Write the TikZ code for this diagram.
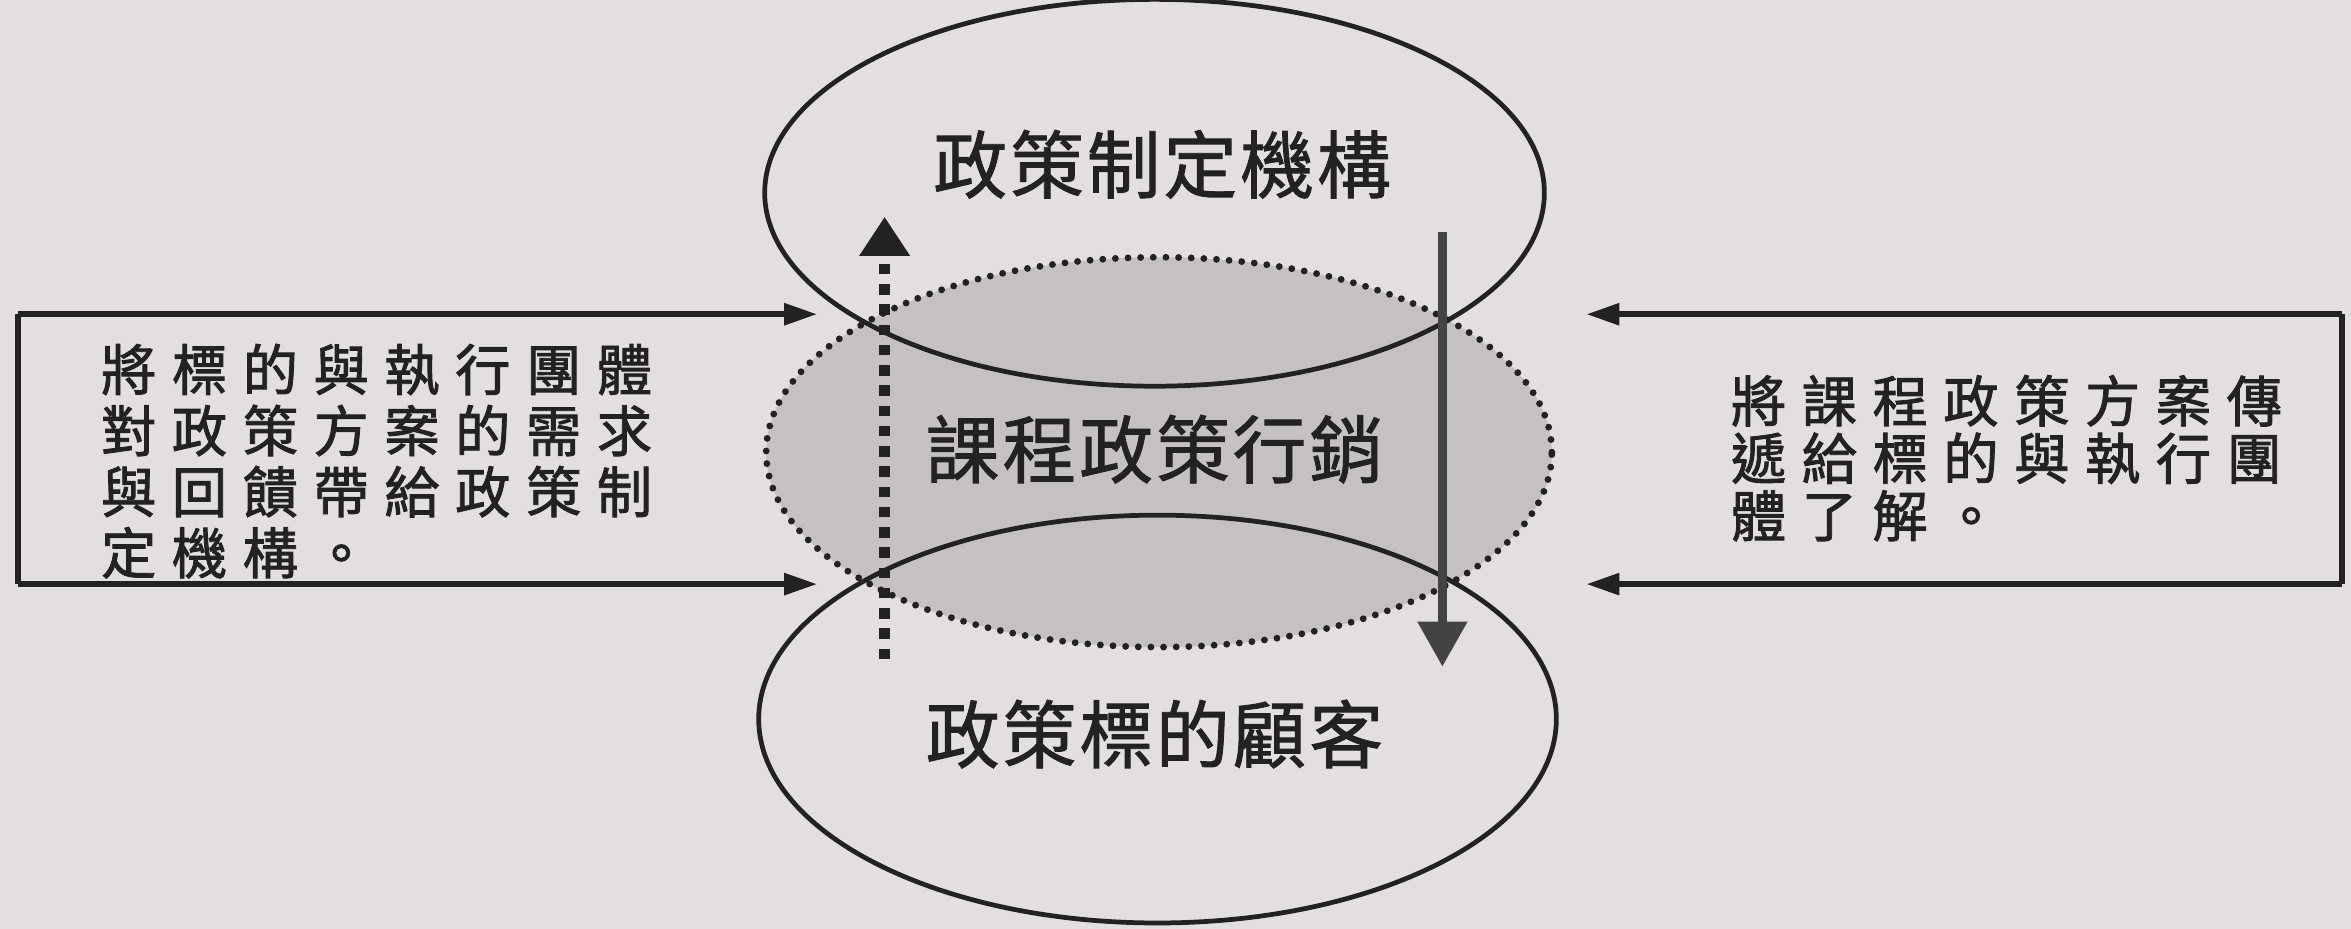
\documentclass[tikz,border=0pt]{standalone}
\usepackage{fontspec}
\newfontfamily\cjkbig[LetterSpace=4,FakeBold=1.2]{Noto Sans CJK TC}
\newfontfamily\cjksmall[LetterSpace=28,FakeBold=1.6]{Noto Sans CJK TC}
\usetikzlibrary{shapes.geometric,arrows.meta}
\definecolor{paper}{HTML}{E4DFDF}
\definecolor{midgray}{HTML}{C6C1C1}
\definecolor{ink}{HTML}{222222}
\tikzset{
  oval/.style={ellipse, draw=ink, line width=0.9pt, inner sep=0pt},
  dotoval/.style={ellipse, fill=midgray, inner sep=0pt},
  dotline/.style={draw=ink, line width=1.3pt, dash pattern=on 0pt off 2.4pt, line cap=round},
  bigtext/.style={font=\cjkbig\fontsize{14}{16}\selectfont, text=ink},
  boxtext/.style={font=\cjksmall\fontsize{10.5}{11.6}\selectfont, text=ink, align=left, anchor=west},
  boxline/.style={draw=ink, line width=1.1pt},
  sidearrow/.style={boxline, -{Triangle[length=0.22cm, width=0.14cm]}},
  uparrow/.style={draw=ink, line width=2.0pt, dash pattern=on 0.07cm off 0.065cm, -{Triangle[length=0.26cm, width=0.32cm]}},
  downarrow/.style={draw=ink!85, line width=1.6pt, -{Triangle[length=0.3cm, width=0.32cm]}}
}
\begin{document}
\begin{tikzpicture}
\useasboundingbox (0,0) rectangle (15.68,6.196);
\fill[paper] (0,0) rectangle (15.68,6.196);
\node[dotoval, minimum width=5.24cm, minimum height=2.60cm] (mid) at (7.73,3.18) {};
\node[oval, minimum width=5.20cm, minimum height=2.58cm] (top) at (7.70,4.91) {};
\node[oval, minimum width=5.32cm, minimum height=2.72cm] (bot) at (7.72,1.40) {};
\draw[dotline] (mid.center) ellipse [x radius=2.62cm, y radius=1.30cm];
\node[bigtext] (ttop) at (7.75,5.10) {政策制定機構};
\node[bigtext] (tmid) at (7.70,3.20) {課程政策行銷};
\node[bigtext] (tbot) at (7.70,1.30) {政策標的顧客};
\coordinate (ua) at (5.90,1.80);
\coordinate (ub) at (5.90,4.75);
\draw[uparrow] (ua) -- (ub);
\coordinate (da) at (9.62,4.65);
\coordinate (db) at (9.62,1.75);
\draw[downarrow] (da) -- (db);
\coordinate (l1) at (0.12,4.10);
\coordinate (l2) at (0.12,2.30);
\coordinate (lt1) at (5.45,4.10);
\coordinate (lt2) at (5.45,2.30);
\draw[boxline] (l1) -- (l2);
\draw[sidearrow] (l1) -- (lt1);
\draw[sidearrow] (l2) -- (lt2);
\node[boxtext] (ltext) at (0.55,3.12) {將標的與執行團體\\對政策方案的需求\\與回饋帶給政策制\\定機構。};
\coordinate (r1) at (15.62,4.10);
\coordinate (r2) at (15.62,2.30);
\coordinate (rt1) at (10.58,4.10);
\coordinate (rt2) at (10.58,2.30);
\draw[boxline] (r1) -- (r2);
\draw[sidearrow] (r1) -- (rt1);
\draw[sidearrow] (r2) -- (rt2);
\node[boxtext, font=\cjksmall\fontsize{10.5}{10.9}\selectfont] (rtext) at (11.42,3.14) {將課程政策方案傳\\遞給標的與執行團\\體了解。};
\end{tikzpicture}
\end{document}
